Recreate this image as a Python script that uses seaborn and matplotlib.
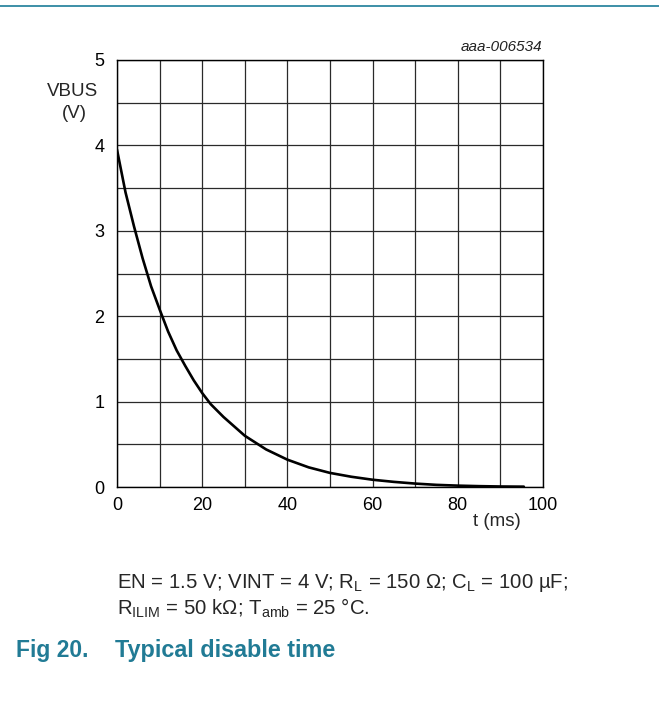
import matplotlib
matplotlib.use("Agg")
import matplotlib.pyplot as plt
import seaborn as sns
import pandas as pd
from matplotlib.lines import Line2D

# data
t_ms = [0, 2, 4, 6, 8, 10, 12, 14, 16, 18, 20, 22, 25, 30, 35, 40, 45, 50,
        55, 60, 65, 70, 75, 80, 85, 90, 95.5]
vbus_v = [3.95, 3.45, 3.05, 2.68, 2.35, 2.08, 1.82, 1.60, 1.42, 1.25, 1.10,
          0.97, 0.82, 0.60, 0.44, 0.32, 0.23, 0.165, 0.12, 0.085, 0.06, 0.04,
          0.025, 0.016, 0.01, 0.006, 0.004]
x_ticks = list(range(0, 101, 10))
x_labels = ["0", "", "20", "", "40", "", "60", "", "80", "", "100"]
y_ticks = [0, 0.5, 1, 1.5, 2, 2.5, 3, 3.5, 4, 4.5, 5]
y_labels = ["0", "", "1", "", "2", "", "3", "", "4", "", "5"]

sns.set_theme(style="white")
plt.rcParams["font.family"] = ["Liberation Sans", "DejaVu Sans"]
plt.rcParams["mathtext.fontset"] = "custom"
plt.rcParams["mathtext.rm"] = "Liberation Sans"
plt.rcParams["mathtext.it"] = "Liberation Sans:italic"
plt.rcParams["mathtext.bf"] = "Liberation Sans:bold"

W, H = 659, 701
fig = plt.figure(figsize=(W / 100, H / 100), dpi=100)
ax = fig.add_axes([117 / W, 1 - 487 / H, (543 - 117) / W, (487 - 60) / H])

df = pd.DataFrame({"t": t_ms, "v": vbus_v})
sns.lineplot(data=df, x="t", y="v", ax=ax, color="black", linewidth=1.9, zorder=3)

ax.set_xlim(0, 100)
ax.set_ylim(0, 5)
ax.set_xticks(x_ticks)
ax.set_xticklabels(x_labels)
ax.set_yticks(y_ticks)
ax.set_yticklabels(y_labels)
ax.tick_params(axis="both", length=0, labelsize=13, colors="black")
ax.tick_params(axis="x", pad=7)
ax.tick_params(axis="y", pad=9)
ax.grid(True, color="#2a2a2a", linewidth=0.9)
for s in ax.spines.values():
    s.set_color("black")
    s.set_linewidth(1.0)
ax.set_xlabel("")
ax.set_ylabel("")

# axis titles
fig.text(73 / W, 1 - 91 / H, "VBUS", ha="center", va="center", fontsize=13.5)
fig.text(74 / W, 1 - 114 / H, "(V)", ha="center", va="center", fontsize=13.5)
fig.text(497 / W, 1 - 521 / H, "t (ms)", ha="center", va="center", fontsize=13.5)
fig.text(542 / W, 1 - 47 / H, "aaa-006534", ha="right", va="center",
         fontsize=11, style="italic", color="#222222")

# top rule
fig.add_artist(Line2D([0, 1], [1 - 6 / H, 1 - 6 / H], color="#1b7d98",
                      linewidth=1.2, transform=fig.transFigure))

# caption
fig.text(117 / W, 1 - 588 / H,
         r"EN = 1.5 V; VINT = 4 V; R$_{\mathrm{L}}$ = 150 Ω; C$_{\mathrm{L}}$ = 100 µF;",
         ha="left", va="baseline", fontsize=14.7)
fig.text(117 / W, 1 - 615 / H,
         r"R$_{\mathrm{ILIM}}$ = 50 kΩ; T$_{\mathrm{amb}}$ = 25 °C.",
         ha="left", va="baseline", fontsize=14.7)

teal = "#217b95"
fig.text(16 / W, 1 - 657 / H, "Fig 20.", ha="left", va="baseline",
         fontsize=16.5, fontweight="bold", color=teal)
fig.text(115 / W, 1 - 657 / H, "Typical disable time", ha="left", va="baseline",
         fontsize=16.8, fontweight="bold", color=teal)

fig.savefig("out.png", dpi=100)
